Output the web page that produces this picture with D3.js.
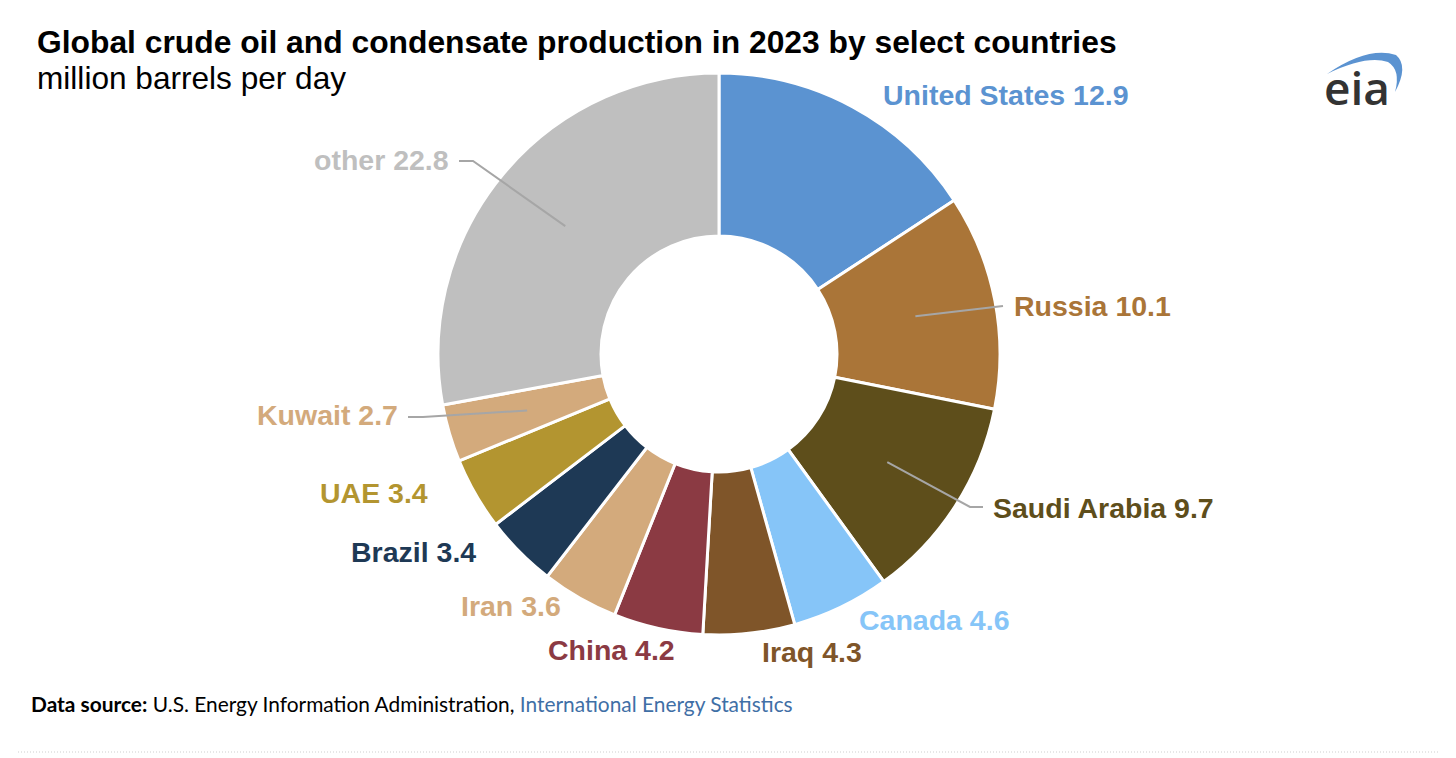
<!DOCTYPE html>
<html>
<head>
<meta charset="utf-8">
<script src="https://cdn.jsdelivr.net/npm/d3@7"></script>
<style>
  body { margin: 0; background: #fff; }
  svg { display: block; }
</style>
</head>
<body>
<svg width="1456" height="758"></svg>
<script>
// data (million barrels per day)
const countries = ['United States', 'Russia', 'Saudi Arabia', 'Canada', 'Iraq', 'China', 'Iran', 'Brazil', 'UAE', 'Kuwait', 'other'];
const production = [12.9, 10.1, 9.7, 4.6, 4.3, 4.2, 3.6, 3.4, 3.4, 2.7, 22.8];
const sliceColors = ['#5b93d1', '#aa7538', '#5e4e1b', '#86c5f8', '#7f5529', '#8b3a43', '#d3aa7c', '#1e3955', '#b39530', '#d3aa7c', '#bfbfbf'];

// label placement (baseline, start of text); leader: extra points toward the label
const labelPos = [
	{ x: 883, y: 105 },
	{ x: 1014, y: 316, leader: [[1003, 306]] },
	{ x: 993, y: 518, leader: [[970, 507], [983, 507]] },
	{ x: 859, y: 630 },
	{ x: 762, y: 662 },
	{ x: 548, y: 660 },
	{ x: 461, y: 616 },
	{ x: 351, y: 562 },
	{ x: 320, y: 503 },
	{ x: 257, y: 425, leader: [[423, 417], [408, 417]] },
	{ x: 314, y: 170, leader: [[473, 161], [459, 161]] },
];

const svg = d3.select('svg');
const cx = 719, cy = 354;

svg.append('text')
	.attr('x', 37).attr('y', 53)
	.attr('font-family', 'Liberation Sans, Arial, sans-serif')
	.attr('font-weight', 'bold')
	.attr('font-size', 31.8)
	.attr('fill', '#000')
	.text('Global crude oil and condensate production in 2023 by select countries');

svg.append('text')
	.attr('x', 37).attr('y', 89)
	.attr('font-family', 'Liberation Sans, Arial, sans-serif')
	.attr('font-size', 31.6)
	.attr('fill', '#000')
	.text('million barrels per day');

// eia logo
const logo = svg.append('g');
logo.append('path')
	.attr('d', 'M1327,74 Q1368,46 1396,55 Q1409,66 1395,92 Q1401,70 1388,62 Q1366,55 1327,74 Z')
	.attr('fill', '#5b93d1');
logo.append('text')
	.attr('x', 1324).attr('y', 105)
	.attr('font-family', 'Open Sans, sans-serif')
	.attr('font-weight', 600)
	.attr('font-size', 46)
	.attr('fill', '#333')
	.text('eia');

const pie = d3.pie().sort(null).value(d => d);
const arcs = pie(production);

const arc = d3.arc().innerRadius(118).outerRadius(281);
const leaderArc = d3.arc().innerRadius(200).outerRadius(200);

const g = svg.append('g').attr('transform', `translate(${cx},${cy})`);

g.selectAll('path')
	.data(arcs)
	.enter()
	.append('path')
	.attr('d', arc)
	.attr('fill', (d, i) => sliceColors[i])
	.attr('stroke', '#fff')
	.attr('stroke-width', 3)
	.attr('stroke-linejoin', 'miter');

// leader lines
const line = d3.line();
arcs.forEach((d, i) => {
	const lp = labelPos[i];
	if (!lp.leader) return;
	const c = leaderArc.centroid(d);
	const pts = [[c[0] + cx, c[1] + cy]].concat(lp.leader);
	svg.append('path')
		.attr('d', line(pts))
		.attr('fill', 'none')
		.attr('stroke', '#a6a6a6')
		.attr('stroke-width', 2);
});

svg.selectAll('text.lbl')
	.data(arcs)
	.enter()
	.append('text')
	.attr('class', 'lbl')
	.attr('x', (d, i) => labelPos[i].x)
	.attr('y', (d, i) => labelPos[i].y)
	.attr('font-family', 'Liberation Sans, Arial, sans-serif')
	.attr('font-weight', 'bold')
	.attr('font-size', 28.5)
	.attr('fill', (d, i) => sliceColors[i])
	.text((d, i) => `${countries[i]} ${production[i]}`);

// source line
const src = svg.append('text')
	.attr('x', 31).attr('y', 712)
	.attr('font-family', 'Lato, sans-serif')
	.attr('font-size', 20.9)
	.attr('fill', '#000');
src.append('tspan').attr('font-weight', 'bold').text('Data source:');
src.append('tspan').text(' U.S. Energy Information Administration, ');
src.append('tspan').attr('fill', '#3f6fa6').text('International Energy Statistics');

svg.append('line')
	.attr('x1', 18).attr('x2', 1438)
	.attr('y1', 752).attr('y2', 752)
	.attr('stroke', '#cfcfcf')
	.attr('stroke-width', 1)
	.attr('stroke-dasharray', '1,2');
</script>
</body>
</html>
